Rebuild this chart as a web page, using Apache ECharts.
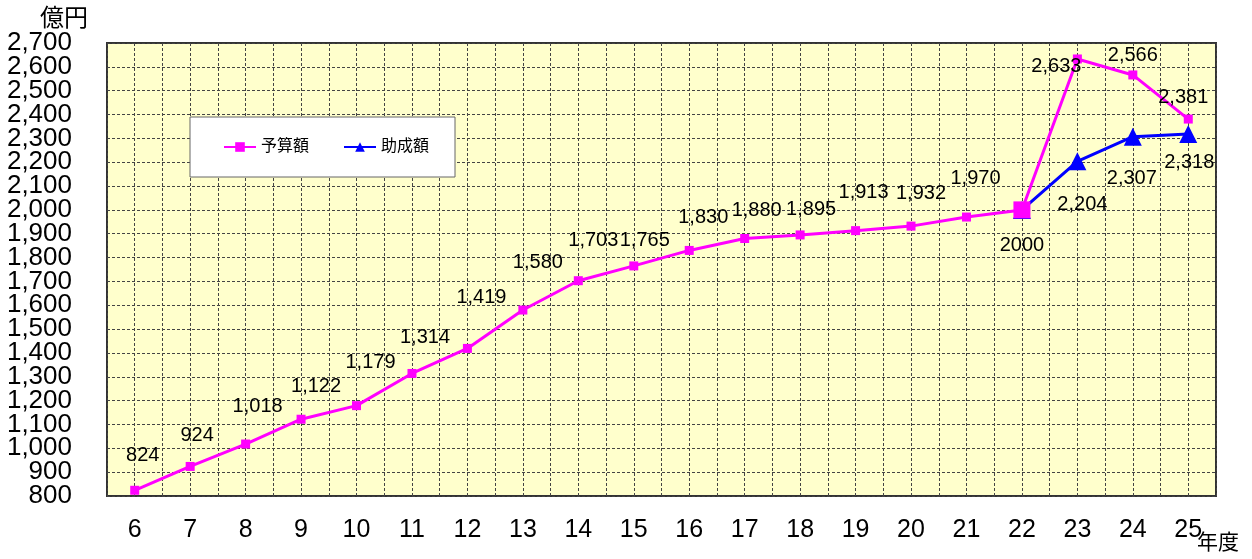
<!DOCTYPE html>
<html><head><meta charset="utf-8">
<script src="https://cdn.jsdelivr.net/npm/echarts@6/dist/echarts.min.js"></script>
<style>html,body{margin:0;padding:0;background:#fff}#c{width:1252px;height:559px}</style>
</head><body><div id="c"></div>
<script>
var categories = ['6','7','8','9','10','11','12','13','14','15','16','17','18','19','20','21','22','23','24','25'];
var budget = [824,924,1018,1122,1179,1314,1419,1580,1703,1765,1830,1880,1895,1913,1932,1970,2000,2633,2566,2381];
var subsidy = [null,null,null,null,null,null,null,null,null,null,null,null,null,null,null,null,2000,2204,2307,2318];
var budgetName = '予算額';
var subsidyName = '助成額';
var yTicks = {min:800, max:2700, interval:100};

// label placement (style only)
var budgetLabelOffsets = [[8,-35],[7,-31],[12,-38],[15,-33],[14,-43],[13,-36],[14,-51],[15,-48],[15,-40],[11,-25],[14,-33],[12,-28],[11,-25],[8,-38],[10,-33],[9,-39],[0,36],[-21,8],[0,-19],[-5,-22]];
var subsidyLabelOffsets = [null,null,null,null,null,null,null,null,null,null,null,null,null,null,null,null,null,[5,43],[-1,42],[1,28]];

var FONT = 'Liberation Sans, Noto Sans CJK JP, sans-serif';
function fmt(v){ return String(v).replace(/\B(?=(\d{3})+(?!\d))/g, ','); }

var budgetData = budget.map(function(v,i){
  var o = {value:v, label:{show:true, position:'inside', offset:budgetLabelOffsets[i],
    formatter: i===16 ? String(v) : fmt(v)}};
  if(i===16){ o.symbolSize = 17; }
  return o;
});
var subsidyData = subsidy.map(function(v,i){
  if(v===null) return null;
  var o = {value:v};
  if(subsidyLabelOffsets[i]){ o.label = {show:true, position:'inside', offset:subsidyLabelOffsets[i], formatter: fmt(v)}; }
  else { o.label = {show:false}; }
  return o;
});

function yAxisDef(parity, withGrid){
  return {
    type:'value', min:yTicks.min, max:yTicks.max, interval:yTicks.interval, position:'left',
    axisLine:{show:false}, axisTick:{show:false},
    axisLabel:{fontSize:26, color:'#000', margin:35, showMinLabel:true, showMaxLabel:true, hideOverlap:false,
      fontFamily:FONT, padding:[3,0,0,0],
      formatter:function(v){ return (Math.round(v/100) % 2 === parity) ? fmt(v) : ''; }},
    splitLine:{show:withGrid, lineStyle:{color:'#444', type:[3,2], width:1}}
  };
}

var chart = echarts.init(document.getElementById('c'), null, {renderer:'canvas'});
chart.setOption({
  animation:false,
  textStyle:{fontFamily:FONT},
  grid:{left:107, right:36, top:43, bottom:63, show:true, containLabel:false, outerBoundsMode:'none',
    backgroundColor:'#FFFFCC', borderColor:'#333', borderWidth:2},
  legend:{
    left:190, top:117, width:260, height:60,
    backgroundColor:'#fff', borderColor:'#666', borderWidth:1,
    padding:[22,26,22,33], itemGap:34, itemWidth:32, itemHeight:12,
    textStyle:{fontSize:16, color:'#000', fontFamily:FONT},
    data:[budgetName, subsidyName]
  },
  xAxis:[{
    type:'category', data:categories, boundaryGap:true,
    axisLine:{show:false}, axisTick:{show:false}, splitLine:{show:false},
    axisLabel:{fontSize:25, color:'#000', margin:22, fontFamily:FONT}
  },{
    type:'value', min:0, max:40, interval:1, show:true, position:'top',
    axisLine:{show:false}, axisTick:{show:false}, axisLabel:{show:false},
    splitLine:{show:true, lineStyle:{color:'#444', type:[3,2], width:1}}
  }],
  yAxis:[yAxisDef(0, true), yAxisDef(1, false)],
  graphic:[
    {type:'text', left:40, top:5, style:{text:'億円', fontSize:24, fill:'#000', fontFamily:'Noto Sans CJK JP'}},
    {type:'text', left:1197, top:531, style:{text:'年度', fontSize:21, fill:'#000', fontFamily:'Noto Sans CJK JP'}}
  ],
  series:[{
    name:subsidyName, type:'line', data:subsidyData, connectNulls:false,
    symbol:'triangle', symbolSize:18,
    lineStyle:{color:'#0000FF', width:3}, itemStyle:{color:'#0000FF'},
    label:{fontSize:20, color:'#000', fontFamily:FONT}, z:3
  },{
    name:budgetName, type:'line', data:budgetData,
    symbol:'rect', symbolSize:9,
    lineStyle:{color:'#FF00FF', width:3}, itemStyle:{color:'#FF00FF'},
    label:{fontSize:20, color:'#000', fontFamily:FONT}, z:4
  }]
});
</script></body></html>
